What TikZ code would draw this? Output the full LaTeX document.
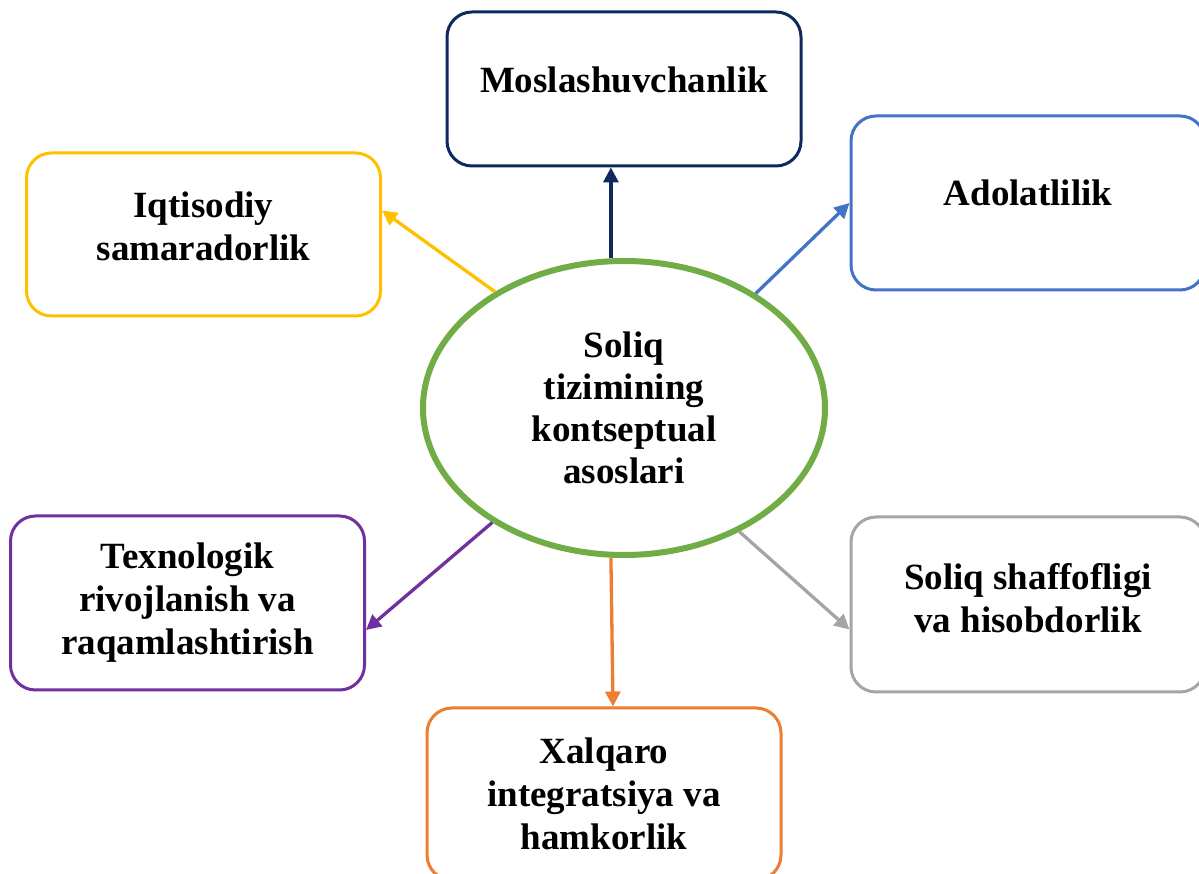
\documentclass[tikz,border=0pt]{standalone}
\usepackage{fontspec}
\setmainfont{Liberation Serif}
\usetikzlibrary{arrows.meta,shapes.geometric}
\definecolor{navybox}{HTML}{0E2A5C}
\definecolor{bluebox}{HTML}{4472C4}
\definecolor{yellowbox}{HTML}{FFC000}
\definecolor{purplebox}{HTML}{7030A0}
\definecolor{graybox}{HTML}{A5A5A5}
\definecolor{orangebox}{HTML}{ED7D31}
\definecolor{greencore}{HTML}{70AD47}
\begin{document}
\begin{tikzpicture}[x=1pt,y=1pt,
  box/.style={draw, line width=3pt, rounded corners=25pt, fill=white,
    minimum width=354pt, align=center, font=\fontsize{37}{43}\selectfont\bfseries},
  link/.style={line width=3.3pt, -{Triangle[length=15pt,width=15pt]}}]
\useasboundingbox (0,0) rectangle (1199,874);
\clip (0,0) rectangle (1199,874);

% centre
\node[ellipse, draw=greencore, line width=6pt, minimum width=402pt, minimum height=294pt,
  align=center, font=\fontsize{37}{42}\selectfont\bfseries] (soliq) at (624,466)
  {Soliq\\tizimining\\kontseptual\\asoslari};

% boxes
\node[box, draw=navybox, minimum height=154pt] (mos) at (624,785) {Moslashuvchanlik\\[-25pt]};
\node[box, draw=bluebox, minimum height=174pt] (ado) at (1028,671) {Adolatlilik\\[-23pt]};
\node[box, draw=yellowbox, minimum height=163pt] (iqt) at (203.5,639.5) {Iqtisodiy\\samaradorlik\\[-27pt]};
\node[box, draw=purplebox, minimum height=174pt] (tex) at (187.5,271) {Texnologik\\rivojlanish va\\raqamlashtirish};
\node[box, draw=graybox, minimum height=175pt] (sha) at (1028,269.5) {Soliq shaffofligi\\va hisobdorlik\\[-29pt]};
\node[box, draw=orangebox, minimum height=172pt] (xal) at (604,80) {Xalqaro\\integratsiya va\\hamkorlik};

% connectors
\draw[link, navybox] (soliq.95) -- (soliq.95 |- mos.south);
\draw[link, bluebox] (soliq.41) -- (ado.west);
\draw[link, yellowbox] (soliq.138) -- ([yshift=24pt]iqt.east);
\draw[link, purplebox] (soliq.221) -- ([yshift=-27pt]tex.east);
\draw[link, graybox] (soliq.313) -- ([yshift=-25pt]sha.west);
\draw[link, orangebox] (soliq.265) -- ([xshift=9pt]xal.north);

\end{tikzpicture}
\end{document}
